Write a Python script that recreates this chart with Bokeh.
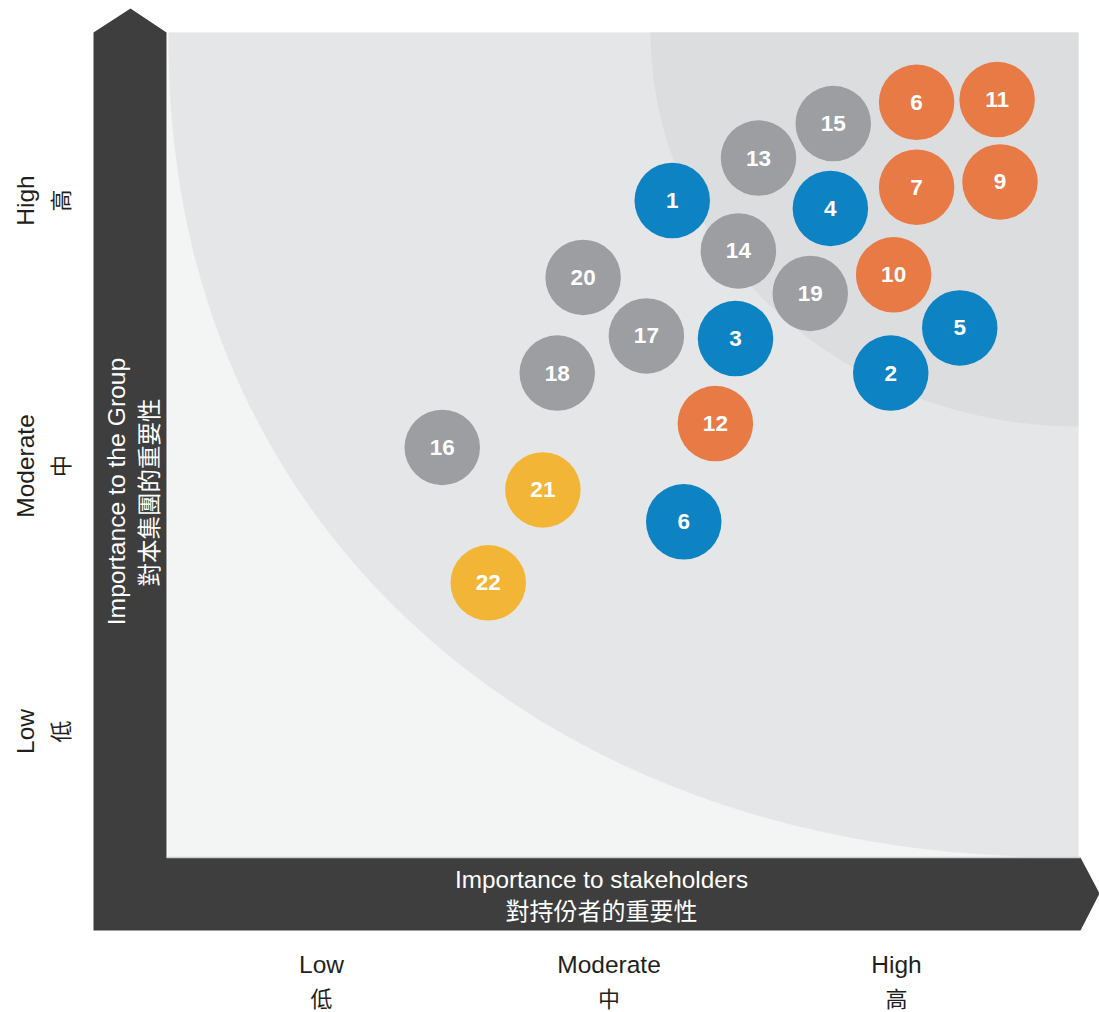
import numpy as np
from bokeh.plotting import figure
from bokeh.models import Range1d, ColumnDataSource
from bokeh.core.properties import value
from bokeh.embed import file_html
from bokeh.resources import INLINE

# ---------------- data (scores: 1 = Low, 2 = Moderate, 3 = High) ----------------
issue_ids = ["1", "2", "3", "4", "5", "6", "6", "7", "9", "10", "11", "12",
             "13", "14", "15", "16", "17", "18", "19", "20", "21", "22"]
issue_group = ["blue", "blue", "blue", "blue", "blue", "blue",
               "orange", "orange", "orange", "orange", "orange", "orange",
               "gray", "gray", "gray", "gray", "gray", "gray", "gray", "gray",
               "yellow", "yellow"]
stakeholder_importance = [2.22, 2.98, 2.44, 2.77, 3.22, 2.26,
                          3.07, 3.07, 3.36, 2.99, 3.35, 2.37,
                          2.52, 2.45, 2.78, 1.42, 2.13, 1.82, 2.70, 1.91,
                          1.77, 1.58]
group_importance = [3.00, 2.35, 2.48, 2.97, 2.52, 1.79,
                    3.37, 3.05, 3.07, 2.72, 3.38, 2.16,
                    3.16, 2.81, 3.29, 2.07, 2.49, 2.35, 2.65, 2.71,
                    1.91, 1.56]

level_values = [1, 2, 3]
level_en = ["Low", "Moderate", "High"]
level_zh = ["低", "中", "高"]

x_title_en = "Importance to stakeholders"
x_title_zh = "對持份者的重要性"
y_title_en = "Importance to the Group"
y_title_zh = "對本集團的重要性"

group_colors = {"blue": "#0e83c3", "orange": "#e77a45",
                "gray": "#9c9ea2", "yellow": "#f3b536"}

# ---------------- layout helpers (reference-pixel layout -> score units) ----------------
PX_PER_X = 287.5
PX_PER_Y = 265.5
def X(px):
    return 1 + (px - 321) / PX_PER_X
def Y(py):
    return 1 + (731 - py) / PX_PER_Y

W, H = 1099, 1012
p = figure(width=W, height=H, output_backend="svg", toolbar_location=None,
           x_range=Range1d(X(0), X(W)), y_range=Range1d(Y(H), Y(0)),
           x_axis_location=None, y_axis_location=None, min_border=0,
           outline_line_color=None, background_fill_color="white",
           border_fill_color="white")
p.xgrid.visible = False
p.ygrid.visible = False

# plot area backgrounds
L, R, T, B = 167, 1078, 32, 857
p.patch([X(L), X(R), X(R), X(L)], [Y(T), Y(T), Y(B), Y(B)],
        fill_color="#f3f4f4", line_color=None)

def quarter(cx, cy, rx, ry, n):
    t = np.linspace(0, np.pi / 2, 200)
    dx = rx * np.cos(t) ** (2.0 / n)
    dy = ry * np.sin(t) ** (2.0 / n)
    xs = [X(cx - a) for a in dx] + [X(cx)]
    ys = [Y(cy + b) for b in dy] + [Y(cy)]
    return xs, ys

xs, ys = quarter(R, T, 910, 825, 2.15)
p.patch(xs, ys, fill_color="#e5e6e8", line_color=None)
xs, ys = quarter(R, T, 428, 394, 2.0)
p.patch(xs, ys, fill_color="#dcdddf", line_color=None)

# dark axis arrows
arrow_px = [(93, 930), (93, 32), (130, 8), (166, 32), (166, 857),
            (1080, 857), (1099, 893), (1080, 930)]
p.patch([X(a) for a, b in arrow_px], [Y(b) for a, b in arrow_px],
        fill_color="#3e3e3e", line_color=None)
p.line([X(166), X(1080)], [Y(857), Y(857)], line_color="#cfcfcf", line_width=1.5)

# bubbles
src = ColumnDataSource(dict(
    x=stakeholder_importance, y=group_importance, label=issue_ids,
    color=[group_colors[g] for g in issue_group]))
p.scatter("x", "y", source=src, size=75.5, fill_color="color", line_color=None)
p.text("x", "y", text="label", source=src, text_color="white",
       text_font=value("Liberation Sans"), text_font_style="bold",
       text_font_size="22.5px", text_align="center", text_baseline="middle")

EN = value("Liberation Sans")
ZH = value("Noto Sans CJK TC")

# x level labels
p.text(x=level_values, y=[Y(964)] * 3, text=level_en, text_font=EN,
       text_font_size="24.5px", text_color="#231f20",
       text_align="center", text_baseline="middle")
p.text(x=level_values, y=[Y(996)] * 3, text=level_zh, text_font=ZH,
       text_font_size="22px", text_color="#231f20",
       text_align="center", text_baseline="middle")

# y level labels (rotated)
p.text(x=[X(25)] * 3, y=level_values, text=level_en, text_font=EN,
       text_font_size="24.5px", text_color="#231f20", angle=np.pi / 2,
       text_align="center", text_baseline="middle")
p.text(x=[X(58)] * 3, y=level_values, text=level_zh, text_font=ZH,
       text_font_size="22px", text_color="#231f20", angle=np.pi / 2,
       text_align="center", text_baseline="middle")

# axis titles
p.text(x=[X(601)], y=[Y(879)], text=[x_title_en], text_font=EN,
       text_font_size="24.3px", text_color="white",
       text_align="center", text_baseline="middle")
p.text(x=[X(601)], y=[Y(909)], text=[x_title_zh], text_font=ZH,
       text_font_size="24px", text_color="white",
       text_align="center", text_baseline="middle")
p.text(x=[X(116)], y=[Y(491)], text=[y_title_en], text_font=EN,
       text_font_size="24.7px", text_color="white", angle=np.pi / 2,
       text_align="center", text_baseline="middle")
p.text(x=[X(147)], y=[Y(492)], text=[y_title_zh], text_font=ZH,
       text_font_size="23.5px", text_color="white", angle=np.pi / 2,
       text_align="center", text_baseline="middle")

open("out.html", "w").write(file_html(p, INLINE))
